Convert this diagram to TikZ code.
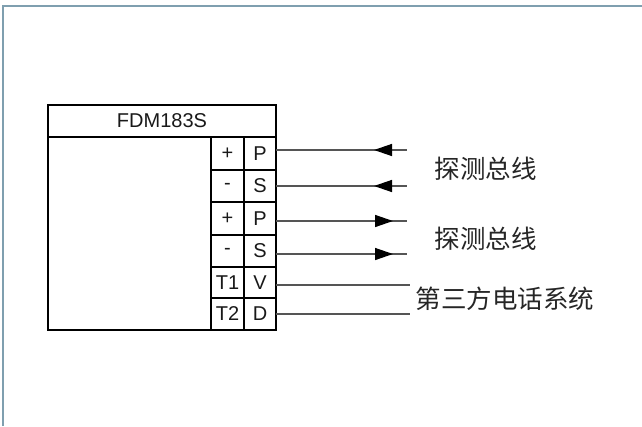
\documentclass[tikz,border=0pt]{standalone}
\usepackage{fontspec}
\setmainfont{Liberation Sans}
\newfontfamily\cjk{Noto Sans CJK SC}
\usetikzlibrary{arrows.meta,decorations.markings}
\definecolor{framec}{HTML}{7F9FAF}
\definecolor{wirec}{HTML}{555555}
\tikzset{
  x=1pt,y=-1pt,
  cellbox/.style={draw=black,line width=1.7pt,minimum width=#1,minimum height=10pt,inner sep=0pt,outer sep=0pt,anchor=north west,font=\fontsize{20}{20}\selectfont,text=black!90},
  wire/.style={draw=wirec,line width=1.4pt},
  intip/.style={postaction={decorate},decoration={markings,mark=at position #1 with {\arrowreversed[black]{Triangle[length=18pt,width=12pt]}}}},
  outtip/.style={postaction={decorate},decoration={markings,mark=at position #1 with {\arrow[black]{Triangle[length=18pt,width=12pt]}}}},
  cjktext/.style={font=\fontsize{25.5}{25.5}\cjk,text=black!85,inner sep=0pt}
}
\begin{document}
\begin{tikzpicture}
\useasboundingbox (0,0) rectangle (642,426);
\fill[white] (0,0) rectangle (642,426);
\draw[framec,line width=1.7pt] (3.2,426) -- (3.2,6.2) -- (642,6.2);
% module body
\node[cellbox=228pt,minimum height=32pt] (title) at (48,105) {FDM183S};
\node[cellbox=163pt,minimum height=193pt] (body) at (48,137) {};
% terminal cells
\node[cellbox=33pt,minimum height=33pt] (a1) at (211,137) {+};
\node[cellbox=32pt,minimum height=33pt] (b1) at (244,137) {P};
\node[cellbox=33pt,minimum height=32pt] (a2) at (211,170) {-};
\node[cellbox=32pt,minimum height=32pt] (b2) at (244,170) {S};
\node[cellbox=33pt,minimum height=33pt] (a3) at (211,202) {+};
\node[cellbox=32pt,minimum height=33pt] (b3) at (244,202) {P};
\node[cellbox=33pt,minimum height=32pt] (a4) at (211,235) {-};
\node[cellbox=32pt,minimum height=32pt] (b4) at (244,235) {S};
\node[cellbox=33pt,minimum height=31pt] (a5) at (211,267) {T1};
\node[cellbox=32pt,minimum height=31pt] (b5) at (244,267) {V};
\node[cellbox=33pt,minimum height=32pt] (a6) at (211,298) {T2};
\node[cellbox=32pt,minimum height=32pt] (b6) at (244,298) {D};
% free ends
\coordinate (e1) at (407,150);
\coordinate (e2) at (407,186);
\coordinate (e3) at (407,221);
\coordinate (e4) at (407,254);
\coordinate (e5) at (410,285);
\coordinate (e6) at (410,314);
\draw[wire,intip=98pt] (e1 -| b1.east) -- (e1);
\draw[wire,intip=98pt] (e2 -| b2.east) -- (e2);
\draw[wire,outtip=117pt] (e3 -| b3.east) -- (e3);
\draw[wire,outtip=117pt] (e4 -| b4.east) -- (e4);
\draw[wire] (e5 -| b5.east) -- (e5);
\draw[wire] (e6 -| b6.east) -- (e6);
% labels
\node[cjktext] (l1) at (485.5,169) {探测总线};
\node[cjktext] (l2) at (485.5,238.5) {探测总线};
\node[cjktext] (l3) at (505,299) {第三方电话系统};
\end{tikzpicture}
\end{document}
